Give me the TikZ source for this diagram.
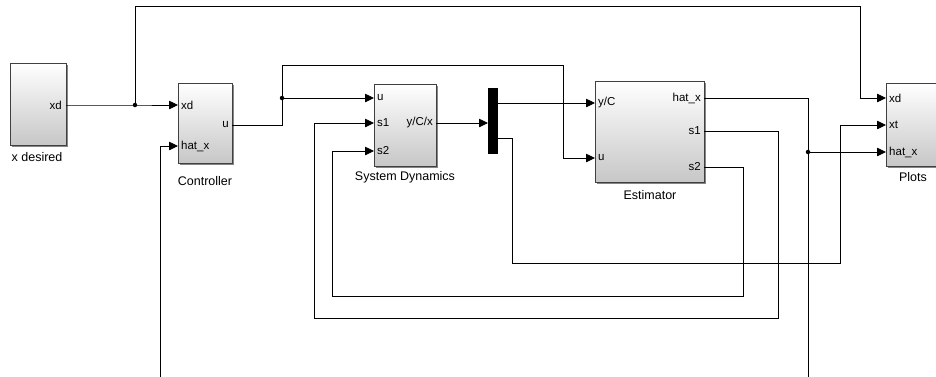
\documentclass[tikz,border=0pt]{standalone}
\usepackage{fontspec}
\setmainfont{Liberation Sans}
\usetikzlibrary{arrows.meta,shadows}
\begin{document}
\begin{tikzpicture}[x=1pt,y=-1pt,
  block/.style={draw=black!75, line width=0.9pt, top color=white, bottom color=black!22,
    drop shadow={shadow xshift=2pt, shadow yshift=-2pt, fill=black!60, opacity=0.8}, inner sep=0pt},
  muxbar/.style={fill=black, draw=black, inner sep=0pt},
  wire/.style={line width=0.75pt, draw=black},
  sig/.style={wire, -{Triangle[length=9pt,width=8.5pt]}},
  lab/.style={font=\fontsize{11.5}{12}\selectfont, inner sep=0pt},
  captext/.style={font=\fontsize{12.5}{13}\selectfont, inner sep=0pt},
  dot/.style={circle, fill=black, inner sep=0pt, minimum size=4.5pt}
]
\useasboundingbox (0,0) rectangle (936,376);
\clip (0,0) rectangle (936,376);

% blocks
\node[block, minimum width=56pt, minimum height=82pt] (xdes) at (38,104) {};
\node[block, minimum width=54pt, minimum height=80pt] (ctrl) at (205,123) {};
\node[block, minimum width=62pt, minimum height=82pt] (sd) at (405,125) {};
\node[muxbar, minimum width=9pt, minimum height=65pt] (mux) at (492.5,120.5) {};
\node[block, minimum width=109pt, minimum height=101pt] (est) at (649.5,131.5) {};
\node[block, minimum width=54pt, minimum height=83pt] (plots) at (913,124.5) {};

% captions
\node[captext] (cxdes) at (37,157) {x desired};
\node[captext] (cctrl) at (205,181) {Controller};
\node[captext] (csd) at (405,177) {System Dynamics};
\node[captext] (cest) at (650,195) {Estimator};
\node[captext] (cplots) at (913,177) {Plots};

% port coordinates
\coordinate (xdes-xd) at (66,105);
\coordinate (ctrl-xd) at (178,105);
\coordinate (ctrl-hx) at (178,146);
\coordinate (ctrl-u) at (232,125);
\coordinate (sd-u) at (374,98);
\coordinate (sd-s1) at (374,123);
\coordinate (sd-s2) at (374,151);
\coordinate (sd-y) at (436,123);
\coordinate (mux-in) at (488,123);
\coordinate (mux-o1) at (497,103);
\coordinate (mux-o2) at (497,138);
\coordinate (est-yc) at (595,103);
\coordinate (est-u) at (595,158);
\coordinate (est-hx) at (704,98);
\coordinate (est-s1) at (704,131);
\coordinate (est-s2) at (704,167);
\coordinate (pl-xd) at (886,98);
\coordinate (pl-xt) at (886,125);
\coordinate (pl-hx) at (886,152);

% port labels
\node[lab, anchor=east] (lxdes) at (62,105) {xd};
\node[lab, anchor=west] (lcxd) at (181,105) {xd};
\node[lab, anchor=west] (lchx) at (181,146) {hat\_x};
\node[lab, anchor=east] (lcu) at (229,125) {u};
\node[lab, anchor=west] (lsu) at (377,98) {u};
\node[lab, anchor=west] (lss1) at (377,123) {s1};
\node[lab, anchor=east] (lsy) at (433,123) {y/C/x};
\node[lab, anchor=west] (lss2) at (377,151) {s2};
\node[lab, anchor=west] (leyc) at (598,103) {y/C};
\node[lab, anchor=west] (leu) at (598,158) {u};
\node[lab, anchor=east] (lehx) at (701,98) {hat\_x};
\node[lab, anchor=east] (les1) at (701,131) {s1};
\node[lab, anchor=east] (les2) at (701,167) {s2};
\node[lab, anchor=west] (lpxd) at (889,98) {xd};
\node[lab, anchor=west] (lpxt) at (889,125) {xt};
\node[lab, anchor=west] (lphx) at (889,152) {hat\_x};

% junctions
\node[dot] (j1) at (135,105) {};
\node[dot] (j2) at (282,98) {};
\node[dot] (j3) at (808,152) {};

% wires
\draw[sig] (xdes-xd) -- (j1.center) -- (ctrl-xd);
\draw[sig] (j1.center) |- (860,6) |- (pl-xd);
\draw[sig] (ctrl-u) -| (j2.center) -- (sd-u);
\draw[sig] (j2.center) |- (563,65) |- (est-u);
\draw[sig] (sd-y) -- (mux-in);
\draw[sig] (mux-o1) -- (est-yc);
\draw[sig] (mux-o2) -| (512,263) -| (840,125) -- (pl-xt);
\draw[wire] (est-hx) -| (j3.center);
\draw[sig] (j3.center) -- (pl-hx);
\draw[sig] (j3.center) -- (808,400) -| (160,146) -- (ctrl-hx);
\draw[sig] (est-s1) -| (778,318) -| (314,123) -- (sd-s1);
\draw[sig] (est-s2) -| (743,296) -| (332,151) -- (sd-s2);
\end{tikzpicture}
\end{document}
